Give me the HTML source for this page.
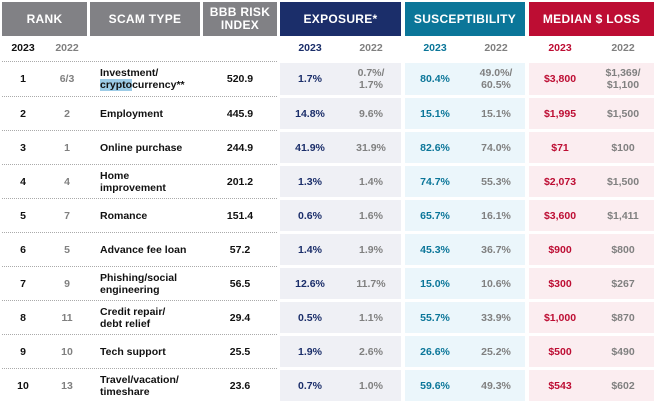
<!DOCTYPE html>
<html><head><meta charset="utf-8"><style>
body{margin:0;width:657px;height:406px;background:#fff;font-family:"Liberation Sans",sans-serif;font-weight:bold;position:relative;overflow:hidden}
div{position:absolute;box-sizing:border-box}
div.in{position:static}
.h{color:#fff;font-size:12px;display:flex;align-items:center;justify-content:center;text-align:center;line-height:13px;letter-spacing:.3px}
.t{font-size:10.5px;display:flex;align-items:center;justify-content:center;text-align:center;line-height:12px}
.dot{height:0;border-top:1px dotted #aaa}
</style></head><body>
<div class="h" style="left:2px;top:2px;width:85px;height:34px;background:#818185">RANK</div>
<div class="h" style="left:90px;top:2px;width:110px;height:34px;background:#818185">SCAM TYPE</div>
<div class="h" style="left:203px;top:2px;width:74px;height:34px;background:#818185">BBB RISK<br>INDEX</div>
<div class="h" style="left:280px;top:2px;width:121px;height:34px;background:#1b2e6a">EXPOSURE*</div>
<div class="h" style="left:405px;top:2px;width:120px;height:34px;background:#0b7699">SUSCEPTIBILITY</div>
<div class="h" style="left:529px;top:2px;width:125px;height:34px;background:#bd0d33">MEDIAN $ LOSS</div>
<script>
const ranks23=["1","2","3","4","5","6","7","8","9","10"];
const ranks22=["6/3","2","1","4","7","5","9","11","10","13"];
const types=["Investment/<br><span style='background:#9ccbe6'>crypto</span>currency**","Employment","Online purchase","Home<br>improvement","Romance","Advance fee loan","Phishing/social<br>engineering","Credit repair/<br>debt relief","Tech support","Travel/vacation/<br>timeshare"];
const bbb=["520.9","445.9","244.9","201.2","151.4","57.2","56.5","29.4","25.5","23.6"];
const exp23=["1.7%","14.8%","41.9%","1.3%","0.6%","1.4%","12.6%","0.5%","1.9%","0.7%"];
const exp22=["0.7%/<br>1.7%","9.6%","31.9%","1.4%","1.6%","1.9%","11.7%","1.1%","2.6%","1.0%"];
const sus23=["80.4%","15.1%","82.6%","74.7%","65.7%","45.3%","15.0%","55.7%","26.6%","59.6%"];
const sus22=["49.0%/<br>60.5%","15.1%","74.0%","55.3%","16.1%","36.7%","10.6%","33.9%","25.2%","49.3%"];
const loss23=["$3,800","$1,995","$71","$2,073","$3,600","$900","$300","$1,000","$500","$543"];
const loss22=["$1,369/<br>$1,100","$1,500","$100","$1,500","$1,411","$800","$267","$870","$490","$602"];
const B=document.body;
function cell(x,y,w,h,html,color,bg,align,name){
 const d=document.createElement('div');
 d.className='t';
 
 
 d.style.cssText=`left:${x}px;top:${y}px;width:${w}px;height:${h}px;color:${color};`+(bg?`background:${bg};`:'')+(align?`justify-content:flex-start;text-align:left;padding-left:${align}px;`:'');
 if(html){const inn=document.createElement('div');inn.className='in';inn.innerHTML=html;d.appendChild(inn);}
 B.appendChild(d);return d;
}
cell(2,40,42,16,"2023","#111",null,0,"year-2023-rank");
cell(46,40,42,16,"2022","#808080",null,0,"year-2022-rank");
cell(280,40,60,16,"2023","#1b2e6a",null,0,"year-2023-exposure");
cell(341,40,60,16,"2022","#808080",null,0,"year-2022-exposure");
cell(405,40,60,16,"2023","#0b7699",null,0,"year-2023-susceptibility");
cell(466,40,60,16,"2022","#808080",null,0,"year-2022-susceptibility");
cell(529,40,62,16,"2023","#bd0d33",null,0,"year-2023-loss");
cell(592,40,62,16,"2022","#808080",null,0,"year-2022-loss");
const top0=61;
for(let i=0;i<ranks23.length;i++){
 const y= i===0? top0 : 96+(i-1)*34;
 const h= i===0? 35 : 34;
 const ln=document.createElement('div');ln.className='dot';
 
 
 ln.style.cssText=`left:2px;top:${y}px;width:275px`;B.appendChild(ln);
 const cy=y+2,ch=h-3;
 cell(2,cy,42,ch,ranks23[i],"#111",null,0,"rank-2023");
 cell(46,cy,42,ch,ranks22[i],"#808080",null,0,"rank-2022");
 cell(90,cy,112,ch,types[i],"#111",null,10,"scam-type");
 cell(203,cy,74,ch,bbb[i],"#111",null,0,"bbb-risk-index");
 cell(280,cy,121,ch,"","#000","#eff0f5",0,"exposure-bg");
 cell(405,cy,120,ch,"","#000","#ebf6fb",0,"susceptibility-bg");
 cell(529,cy,125,ch,"","#000","#fbedf0",0,"loss-bg");
 cell(280,cy,60,ch,exp23[i],"#1b2e6a",null,0,"exposure-2023");
 cell(341,cy,60,ch,exp22[i],"#808080",null,0,"exposure-2022");
 cell(405,cy,60,ch,sus23[i],"#0b7699",null,0,"susceptibility-2023");
 cell(466,cy,60,ch,sus22[i],"#808080",null,0,"susceptibility-2022");
 cell(529,cy,62,ch,loss23[i],"#bd0d33",null,0,"loss-2023");
 cell(592,cy,62,ch,loss22[i],"#808080",null,0,"loss-2022");
}
</script>
</body></html>
